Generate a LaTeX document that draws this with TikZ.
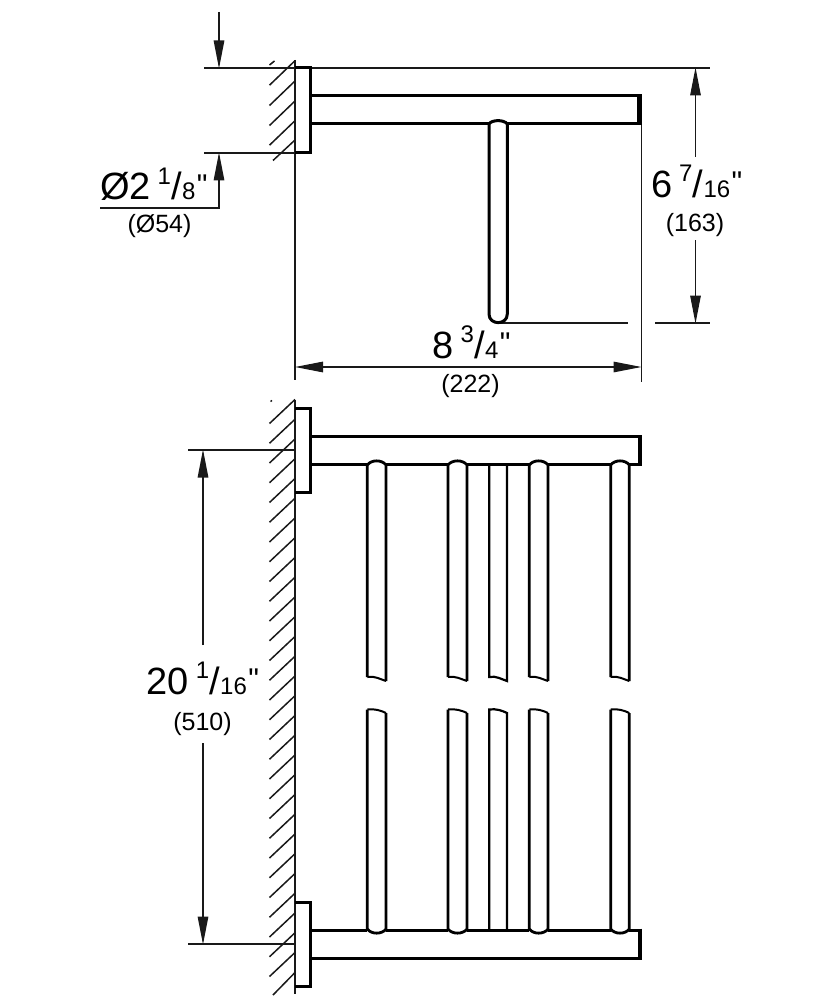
\documentclass[tikz,border=0pt]{standalone}
\usepackage{fontspec}
\setmainfont[Ligatures=NoCommon,Mapping=]{Liberation Sans}
\usetikzlibrary{arrows.meta}
\newcommand\dimtxt[3]{{\fontsize{38}{38}\selectfont #1\hspace{7pt}\raisebox{15.5pt}{\fontsize{24}{24}\selectfont #2}\hspace{0.5pt}/\fontsize{24}{24}\selectfont #3\hspace{1.5pt}\raisebox{4.5pt}{\fontsize{30}{30}\selectfont\symbol{34}}}}
\tikzset{
  thinl/.style={line width=1.3pt,black!90},
  thickl/.style={line width=3pt,black,line join=miter},
  midl/.style={line width=2.2pt,black},
  hatchl/.style={line width=1.5pt,black!90},
  dimarrow/.style={line width=1.3pt,black!90,-{Triangle[length=28pt,width=10.5pt]},shorten >=-0.5pt},
  dimboth/.style={line width=1.3pt,black!90,{Triangle[length=28pt,width=10.5pt]}-{Triangle[length=28pt,width=10.5pt]}},
  biglabel/.style={anchor=base west,inner sep=0pt,outer sep=0pt},
  mmlabel/.style={anchor=base,inner sep=0pt,outer sep=0pt,font=\fontsize{25}{25}\selectfont},
}
\begin{document}
\begin{tikzpicture}[x=1pt,y=-1pt]
\useasboundingbox (0,0) rectangle (834,1000);
\fill[white] (0,0) rectangle (834,1000);

% ---- top view: hatching and wall
\draw[hatchl] (269.5,65) -- (274.5,61);
\foreach \y in {60.7,81,101,120.7} \draw[hatchl] (295,\y) -- ++(-25.5,24.5);
\draw[hatchl] (295,140) -- (273,160.5);
\draw[thinl] (295,60) -- (295,380);

% ---- top view: extension lines
\coordinate (topL) at (204,68);
\coordinate (topR) at (710,68);
\coordinate (lowL) at (204,153);
\coordinate (lowR) at (295,153);
\draw[thinl] (topL) -- (topR);
\draw[thinl] (lowL) -- (lowR);
\draw[thinl] (498,323) -- (628,323);
\draw[thinl] (655,323) -- (710,323);
\draw[thinl] (641.5,124) -- (641.5,382);

% ---- top view: rosette and bar
\draw[thickl] (295,68) -- (310.5,68) -- (310.5,152.5) -- (295,152.5);
\draw[thickl] (311,96) -- (640,96);
\draw[thickl] (311,124) -- (489,124);
\draw[thickl] (507,124) -- (640,124);
\draw[thickl,line width=4.5pt] (639.5,94.5) -- (639.5,125.5);
\draw[thickl] (489,124) .. controls (492,119.5) and (504,119.5) .. (507.3,124)
  -- (507.3,314) .. controls (507.3,325.5) and (489,325.5) .. (489,314) -- cycle;

% ---- top view: dimensions
\coordinate (aTop) at (219,12);
\coordinate (aTopEnd) at (219,68);
\coordinate (aLow) at (219,208);
\coordinate (aLowEnd) at (219,153);
\coordinate (uLeft) at (100,208);
\draw[dimarrow] (aTop) -- (aTopEnd);
\draw[dimarrow] (uLeft) -- (aLow) -- (aLowEnd);
\coordinate (hL) at (295,367);
\coordinate (hR) at (641.5,367);
\draw[dimboth] (hL) -- (hR);
\coordinate (v1a) at (695.5,157);
\coordinate (v1b) at (695.5,68);
\coordinate (v2a) at (695.5,240);
\coordinate (v2b) at (695.5,323);
\draw[dimarrow] (v1a) -- (v1b);
\draw[dimarrow] (v2a) -- (v2b);

\node[biglabel] (d1) at (100,200) {\dimtxt{Ø2}{1}{8}};
\node[mmlabel] (m1) at (159.5,233) {(Ø54)};
\node[biglabel] (d2) at (651,197.5) {\dimtxt{6}{7}{16}};
\node[mmlabel] (m2) at (695,231.5) {(163)};
\node[biglabel] (d3) at (432.5,358) {\dimtxt{8}{3}{4}};
\node[mmlabel] (m3) at (470.5,392.5) {(222)};

% ---- front view: hatching and wall
\draw[hatchl] (270.5,401.5) -- (272,400.5);
\foreach \k in {0,...,28} \draw[hatchl] (295,{399.5+\k*19.75}) -- ++(-25.5,24);
\draw[hatchl] (295,972.5) -- (273,995);
\draw[thinl,line width=1.6pt] (295,400) -- (295,994);

% ---- front view: rosettes and bars
\draw[thickl] (295,408) -- (310.5,408) -- (310.5,492.5) -- (295,492.5);
\draw[thickl] (295,902) -- (310.5,902) -- (310.5,986.5) -- (295,986.5);
\draw[thickl] (311,436.5) -- (641,436.5);
\draw[thickl] (311,958) -- (641,958);
\foreach \a/\b in {311/367.3,386/448,467/529.3,548/610.7,629.3/641}{
  \draw[thickl] (\a,464.5) -- (\b,464.5);
  \draw[thickl] (\a,930) -- (\b,930);
}
\foreach \yy/\zz in {436.5/464.5,930/958}{
  \draw[thickl,line width=4.5pt] (640,{\yy-1.5}) -- (640,{\zz+1.5});
}

% ---- front view: rods
\foreach \a/\b in {367.3/386,448/467,529.3/548,610.7/629.3}{
  \draw[thickl,line width=2.8pt] (\a,677) -- (\a,465) .. controls ({\a+4},459.5) and ({\b-4},459.5) .. (\b,465) -- (\b,681);
  \draw[midl,line width=2pt] (\a,677) .. controls ({\a+7},675.5) and ({\b-5},679.5) .. (\b,681);
  \draw[thickl,line width=2.8pt] (\a,709.5) -- (\a,929) .. controls ({\a+4},934.5) and ({\b-4},934.5) .. (\b,929) -- (\b,713);
  \draw[midl,line width=2pt] (\a,709.5) .. controls ({\a+7},708.5) and ({\b-5},710.5) .. (\b,713);
}
\draw[midl] (489.3,466) -- (489.3,677) .. controls (496,675.5) and (502,679.5) .. (507,681) -- (507,466);
\draw[midl] (489.3,929) -- (489.3,709.5) .. controls (496,708.5) and (502,710.5) .. (507,713) -- (507,929);

% ---- front view: dimension
\coordinate (e1L) at (188,450);
\coordinate (e1R) at (295,450);
\coordinate (e2L) at (188,944);
\coordinate (e2R) at (295,944);
\draw[thinl] (e1L) -- (e1R);
\draw[thinl] (e2L) -- (e2R);
\coordinate (w1a) at (203,645);
\coordinate (w1b) at (203,450);
\coordinate (w2a) at (203,743);
\coordinate (w2b) at (203,944);
\draw[dimarrow] (w1a) -- (w1b);
\draw[dimarrow] (w2a) -- (w2b);
\node[biglabel] (d4) at (146.5,694) {\dimtxt{20}{1}{16}};
\node[mmlabel] (m4) at (202.5,730.5) {(510)};
\end{tikzpicture}
\end{document}
